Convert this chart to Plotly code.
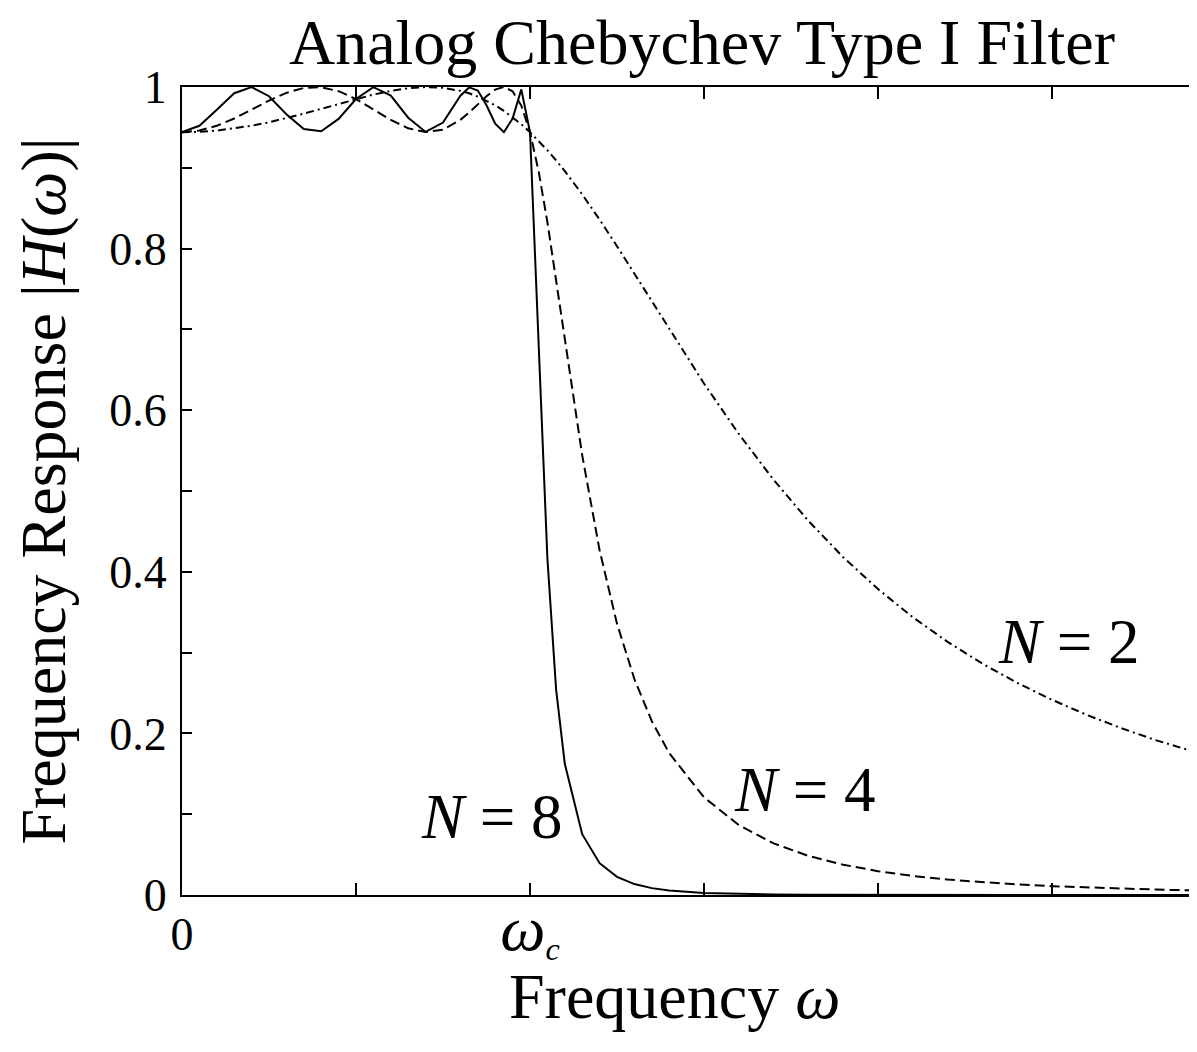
"""
Analog Chebychev Type I low-pass filter: magnitude response |H(w)| for
orders N = 2, 4 and 8 (0.5 dB ripple), frequency normalised to w_c = 1.
"""

import plotly.graph_objects as go

# Normalised frequency w / w_c and magnitudes.
omega = [
    0.00, 0.05, 0.10, 0.15, 0.20, 0.25, 0.30, 0.35, 0.40, 0.45, 0.50, 0.55,
    0.60, 0.65, 0.70, 0.75, 0.80, 0.825, 0.85, 0.875, 0.90, 0.925, 0.95,
    0.975, 1.00, 1.025, 1.05, 1.075, 1.10, 1.15, 1.20, 1.25, 1.30, 1.35, 1.40,
    1.50, 1.60, 1.70, 1.80, 1.90, 2.00, 2.10, 2.20, 2.30, 2.40, 2.50, 2.60,
    2.70, 2.80, 2.90, 2.95,
]
mag_n2 = [
    0.9441, 0.9446, 0.9461, 0.9486, 0.9520, 0.9563, 0.9614, 0.9670, 0.9729,
    0.9791, 0.9851, 0.9906, 0.9952, 0.9985, 1.0000, 0.9990, 0.9952, 0.9922,
    0.9881, 0.9832, 0.9773, 0.9705, 0.9627, 0.9539, 0.9441, 0.9333, 0.9217,
    0.9092, 0.8959, 0.8671, 0.8359, 0.8030, 0.7690, 0.7345, 0.7001, 0.6331,
    0.5706, 0.5138, 0.4630, 0.4181, 0.3786, 0.3438, 0.3133, 0.2863, 0.2626,
    0.2416, 0.2229, 0.2063, 0.1914, 0.1781, 0.1719,
]
mag_n4 = [
    0.9441, 0.9461, 0.9520, 0.9610, 0.9719, 0.9832, 0.9928, 0.9988, 0.9997,
    0.9948, 0.9851, 0.9723, 0.9593, 0.9489, 0.9442, 0.9472, 0.9593, 0.9683,
    0.9785, 0.9886, 0.9968, 1.0000, 0.9947, 0.9770, 0.9441, 0.8952, 0.8327,
    0.7613, 0.6864, 0.5443, 0.4267, 0.3358, 0.2672, 0.2152, 0.1756, 0.1209,
    0.0866, 0.0639, 0.0484, 0.0375, 0.0295, 0.0236, 0.0191, 0.0157, 0.0130,
    0.0109, 0.0092, 0.0078, 0.0067, 0.0057, 0.0053,
]
mag_n8 = [
    0.9441, 0.9520, 0.9718, 0.9923, 0.9999, 0.9886, 0.9663, 0.9480, 0.9452,
    0.9605, 0.9851, 0.9998, 0.9893, 0.9620, 0.9444, 0.9560, 0.9893, 0.9995,
    0.9956, 0.9773, 0.9546, 0.9441, 0.9609, 0.9971, 0.9441, 0.6827, 0.4164,
    0.2543, 0.1624, 0.0753, 0.0394, 0.0224, 0.0135, 0.0085, 0.0056, 0.0026,
    0.0013, 0.0007, 0.0004, 0.0002, 0.0001, 0.0001, 0.0, 0.0, 0.0, 0.0, 0.0,
    0.0, 0.0, 0.0, 0.0,
]

x_tickvals = [0, 0.5, 1.0, 1.5, 2.0, 2.5]
x_ticktext = [
    "0", "",
    "<span style='font-size:64px'><i>ω</i></span><sub><i>c</i></sub>",
    "", "", "",
]
y_tickvals = [0, 0.1, 0.2, 0.3, 0.4, 0.5, 0.6, 0.7, 0.8, 0.9, 1.0]
y_ticktext = ["0", "", "0.2", "", "0.4", "", "0.6", "", "0.8", "", "1"]

# Curve labels: (text, x, y) in data coordinates.
curve_labels = [
    ("<i>N</i> = 8", 0.89, 0.097),
    ("<i>N</i> = 4", 1.79, 0.130),
    ("<i>N</i> = 2", 2.55, 0.313),
]

SERIF = "Liberation Serif, Times New Roman, serif"

# The page body adds an 8 px margin, so the figure is 8 px smaller and the
# plot margins are shifted to keep the axes where the reference has them.
W, H = 1189, 1044

fig = go.Figure()
fig.add_trace(go.Scatter(
    x=omega, y=mag_n8, mode="lines", name="N = 8",
    line=dict(color="black", width=2),
))
fig.add_trace(go.Scatter(
    x=omega, y=mag_n4, mode="lines", name="N = 4",
    line=dict(color="black", width=2, dash="10px,5px"),
))
fig.add_trace(go.Scatter(
    x=omega, y=mag_n2, mode="lines", name="N = 2",
    line=dict(color="black", width=2, dash="8px,4px,2px,4px"),
))

for text, lx, ly in curve_labels:
    fig.add_annotation(
        x=lx, y=ly, xref="x", yref="y", text=text, showarrow=False,
        font=dict(family=SERIF, size=63, color="black"),
    )

# x-axis title placed as a paper annotation to sit close under the ticks
fig.add_annotation(
    x=(674 - 8 - 174) / (W - 174), xref="paper", xanchor="center",
    y=-(997 - 8 - 887) / 808, yref="paper", yanchor="middle",
    text="Frequency <i>ω</i>", showarrow=False,
    font=dict(family=SERIF, size=64, color="black"),
)

fig.update_layout(
    width=W, height=H,
    paper_bgcolor="white", plot_bgcolor="white",
    showlegend=False,
    margin=dict(l=174, r=0, t=79, b=157),
    title=dict(
        text="Analog Chebychev Type I Filter",
        x=694 / W, xref="container", xanchor="center",
        y=1 - 34 / H, yref="container", yanchor="middle",
        font=dict(family=SERIF, size=64, color="black"),
    ),
)
fig.update_xaxes(
    range=[0, (1197 - 182) / 348], showgrid=False, zeroline=False,
    automargin=False,
    showline=True, linecolor="black", linewidth=2, mirror="ticks",
    ticks="inside", ticklen=12, tickwidth=2, tickcolor="black",
    tickvals=x_tickvals, ticktext=x_ticktext, ticklabelstandoff=-2,
    tickfont=dict(family=SERIF, size=46, color="black"),
)
fig.update_yaxes(
    range=[0, 1], showgrid=False, zeroline=False,
    automargin=False,
    showline=True, linecolor="black", linewidth=2,
    ticks="inside", ticklen=10, tickwidth=2, tickcolor="black",
    tickvals=y_tickvals, ticktext=y_ticktext, ticklabelstandoff=4,
    tickfont=dict(family=SERIF, size=46, color="black"),
    title=dict(text="Frequency Response |<i>H</i>(<i>ω</i>)|", standoff=28,
               font=dict(family=SERIF, size=64, color="black")),
)

fig.write_html("out.html")
